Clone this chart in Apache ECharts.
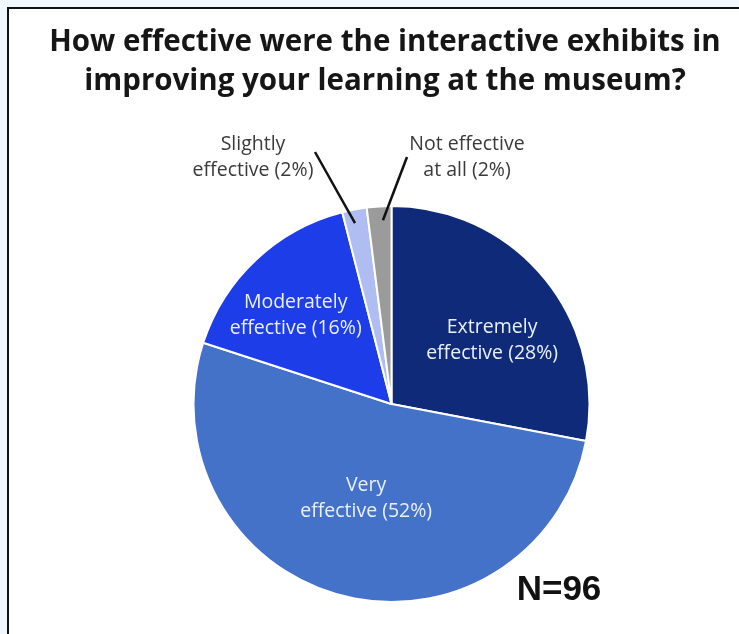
<!DOCTYPE html>
<html>
<head>
<meta charset="utf-8">
<script src="https://cdn.jsdelivr.net/npm/echarts@6/dist/echarts.min.js"></script>
<style>
  html, body { margin: 0; padding: 0; background: #f1f7fe; }
  #chart { width: 739px; height: 634px; }
</style>
</head>
<body>
<div id="chart"></div>
<script>
// Survey answers, clockwise from 12 o'clock
const categories = ['Extremely effective', 'Very effective', 'Moderately effective', 'Slightly effective', 'Not effective at all'];
const labelText = ['Extremely\neffective', 'Very\neffective', 'Moderately\neffective', 'Slightly\neffective', 'Not effective\nat all'];
const percentages = [28, 52, 16, 2, 2];
const respondents = 96;
const titleText = 'How effective were the interactive exhibits in\nimproving your learning at the museum?';

// Presentation
const colors = ['#0e2a78', '#4572c9', '#1d3de8', '#b0bdf3', '#9b9b9b'];
const CX = 391.5, CY = 404, R = 198;
const insideOffset = { 0: [22, 1], 1: [0, -4], 2: [-26, -14] };
// callout text centre and leader end, relative to the pie centre
const callouts = {
  3: { text: [-138.5, -246.5], end: [-76.5, -252], shift: [-2, 0] },
  4: { text: [75.5, -246.5], end: [15.5, -247], shift: [3, 0] }
};

// mid-angle of each slice (radians, clockwise from 12 o'clock)
const total = percentages.reduce((a, b) => a + b, 0);
const midAngles = [];
percentages.reduce((acc, v) => { midAngles.push((acc + v / 2) / total * 2 * Math.PI); return acc + v; }, 0);

const data = categories.map((name, i) => {
  const item = { name: name, value: percentages[i], itemStyle: { color: colors[i] } };
  if (callouts[i]) {
    item.label = { position: 'outside', color: '#3a3a3a' };
  } else {
    item.label = { position: 'inside', offset: insideOffset[i] };
  }
  return item;
});

// leader lines for the two thin slices, starting inside each slice
const leaders = Object.keys(callouts).map(k => {
  const i = +k, c = callouts[i], a = midAngles[i];
  return {
    type: 'polyline',
    z: 100,
    silent: true,
    shape: {
      points: [
        [CX + Math.sin(a) * R * 0.93 + c.shift[0], CY - Math.cos(a) * R * 0.93 + c.shift[1]],
        [CX + c.end[0], CY + c.end[1]]
      ]
    },
    style: { stroke: '#111', lineWidth: 2.5, fill: null }
  };
});

const chart = echarts.init(document.getElementById('chart'), null, { renderer: 'canvas' });
chart.setOption({
  animation: false,
  backgroundColor: '#f1f7fe',
  title: {
    text: titleText,
    left: 380,
    top: 18,
    textAlign: 'center',
    textStyle: {
      fontFamily: 'Open Sans',
      fontWeight: 'bold',
      fontSize: 29.5,
      lineHeight: 39,
      color: '#161616'
    }
  },
  graphic: [
    {
      type: 'rect',
      z: -10,
      silent: true,
      shape: { x: 8, y: 8, width: 800, height: 700 },
      style: { fill: '#ffffff', stroke: '#111111', lineWidth: 2 }
    },
    {
      type: 'text',
      x: 559,
      y: 590,
      style: {
        text: 'N=' + respondents,
        fontFamily: 'Liberation Sans',
        fontWeight: 'bold',
        fontSize: 35,
        fill: '#111',
        align: 'center',
        verticalAlign: 'middle'
      }
    }
  ].concat(leaders),
  series: [{
    type: 'pie',
    center: [CX, CY],
    radius: [0, R],
    startAngle: 90,
    clockwise: true,
    avoidLabelOverlap: false,
    silent: true,
    itemStyle: { borderColor: '#ffffff', borderWidth: 2 },
    label: {
      show: true,
      fontFamily: 'Open Sans',
      fontSize: 19.5,
      lineHeight: 26,
      color: '#eaf0fb',
      align: 'center',
      formatter: p => labelText[p.dataIndex] + ' (' + p.value + '%)'
    },
    labelLine: { show: false },
    labelLayout: function (p) {
      const c = callouts[p.dataIndex];
      if (!c) return {};
      return {
        x: CX + c.text[0],
        y: CY + c.text[1],
        align: 'center',
        verticalAlign: 'middle'
      };
    },
    data: data
  }]
});
</script>
</body>
</html>
